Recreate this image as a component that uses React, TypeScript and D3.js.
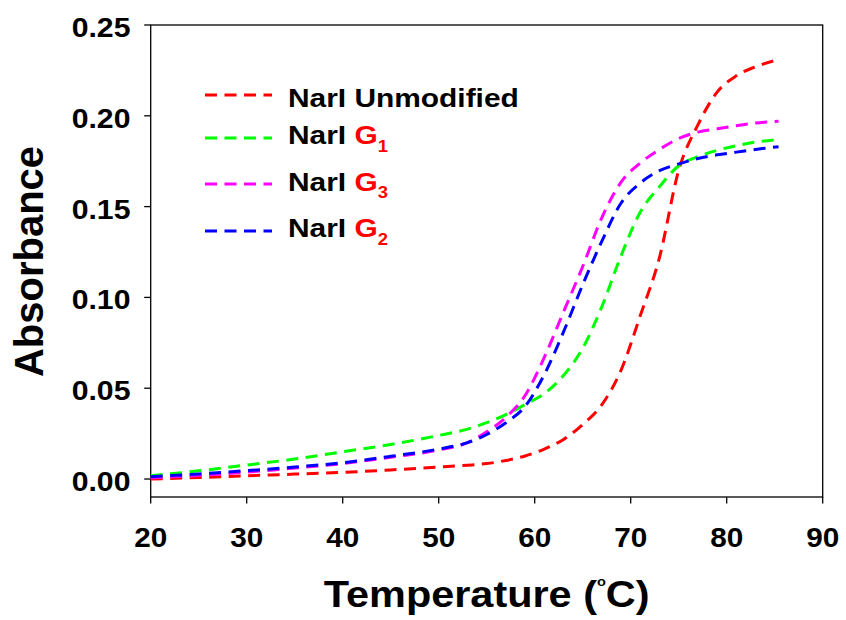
import React from 'react';
import * as d3 from 'd3';

// temperatures (°C) at which the curves were read
const temps = [20, 25, 30, 35, 40, 45, 50, 53, 55, 57, 59, 61, 63, 65, 67, 69, 71, 73, 75, 77, 79, 81, 83, 85.4];

const unmodified = [0.0, 0.0008, 0.0018, 0.0027, 0.0037, 0.005, 0.0066, 0.0076, 0.0085, 0.0102, 0.0127, 0.0165, 0.0218, 0.030, 0.041, 0.060, 0.090, 0.122, 0.170, 0.195, 0.213, 0.222, 0.227, 0.231];
const g1 = [0.0018, 0.0045, 0.0077, 0.011, 0.015, 0.019, 0.024, 0.0275, 0.031, 0.0355, 0.041, 0.047, 0.057, 0.072, 0.095, 0.123, 0.147, 0.161, 0.1725, 0.1775, 0.181, 0.1835, 0.1855, 0.187];
const g3 = [0.0006, 0.002, 0.0038, 0.006, 0.0085, 0.012, 0.016, 0.02, 0.026, 0.034, 0.046, 0.067, 0.092, 0.117, 0.144, 0.1635, 0.174, 0.1815, 0.1875, 0.191, 0.1928, 0.1945, 0.196, 0.197];
const g2 = [0.0013, 0.0028, 0.0046, 0.0066, 0.009, 0.0125, 0.0165, 0.02, 0.0245, 0.031, 0.040, 0.0575, 0.081, 0.107, 0.131, 0.152, 0.163, 0.1698, 0.1735, 0.1765, 0.1785, 0.180, 0.1815, 0.183];

const xTicks = [20, 30, 40, 50, 60, 70, 80, 90];
const yTicks = [0, 0.05, 0.1, 0.15, 0.2, 0.25];

const series = [
  { name: 'NarI', tag: 'Unmodified', sub: '', values: unmodified, color: '#ff0000' },
  { name: 'NarI', tag: 'G', sub: '1', values: g1, color: '#00ff00' },
  { name: 'NarI', tag: 'G', sub: '3', values: g3, color: '#ff00ff' },
  { name: 'NarI', tag: 'G', sub: '2', values: g2, color: '#0000ff' },
];

const font = '"Liberation Sans", Arial, sans-serif';

export default function App() {
  const left = 150.7, right = 822.7, top = 25, bottom = 497;
  const x = d3.scaleLinear().domain([20, 90]).range([left, right]);
  const y = d3.scaleLinear().domain([-0.0099, 0.25]).range([bottom, top]);

  const line = d3
    .line<[number, number]>()
    .x((d) => x(d[0]))
    .y((d) => y(d[1]))
    .curve(d3.curveMonotoneX);

  const legendRows = [95, 138, 184, 231];
  const legendBase = [107, 144, 190.5, 237];

  return (
    <svg
      width={846}
      height={620}
      style={{ position: 'absolute', left: 0, top: 0, background: '#fff' }}
      fontFamily={font}
      fontWeight="bold"
    >
      {/* frame */}
      <rect x={left} y={top} width={right - left} height={bottom - top} fill="none" stroke="#000" strokeWidth={1.3} />

      {/* y ticks */}
      {yTicks.map((t) => (
        <g key={'y' + t}>
          <line x1={left - 6.5} x2={left} y1={y(t)} y2={y(t)} stroke="#000" strokeWidth={1.3} />
          <text transform={`translate(130.5,${y(t) + 11.9}) scale(1.12,1)`} textAnchor="end" fontSize={27}>
            {d3.format('.2f')(t)}
          </text>
        </g>
      ))}

      {/* x ticks */}
      {xTicks.map((t) => (
        <g key={'x' + t}>
          <line x1={x(t)} x2={x(t)} y1={bottom} y2={bottom + 6.5} stroke="#000" strokeWidth={1.3} />
          <text transform={`translate(${x(t)},546.7) scale(1.1,1)`} textAnchor="middle" fontSize={27}>
            {t}
          </text>
        </g>
      ))}

      {/* curves */}
      {series.map((s) => (
        <path
          key={s.color}
          d={line(temps.map((t, i) => [t, s.values[i]] as [number, number])) || ''}
          fill="none"
          stroke={s.color}
          strokeWidth={3}
          strokeDasharray="12 7.5"
        />
      ))}

      {/* legend */}
      {series.map((s, i) => (
        <g key={'lg' + i}>
          <line x1={205} x2={272} y1={legendRows[i]} y2={legendRows[i]} stroke={s.color} strokeWidth={3} strokeDasharray="12 7.5" />
          <text transform={`translate(288,${legendBase[i]}) scale(1.15,1)`} fontSize={26}>
            <tspan fill="#000">{s.name} </tspan>
            {s.sub ? (
              <>
                <tspan fill="#ff0000">{s.tag}</tspan>
                <tspan fill="#ff0000" fontSize={16} dy={7.7}>{s.sub}</tspan>
              </>
            ) : (
              <tspan fill="#000">{s.tag}</tspan>
            )}
          </text>
        </g>
      ))}

      {/* axis titles */}
      <text transform="translate(486.7,606.7) scale(1.12,1)" textAnchor="middle" fontSize={37}>
        Temperature (<tspan fontSize={13} dy={-21}>o</tspan>
        <tspan dy={21}>C)</tspan>
      </text>
      <text transform="translate(43,261.5) rotate(-90)" textAnchor="middle" fontSize={40}>
        Absorbance
      </text>
    </svg>
  );
}
